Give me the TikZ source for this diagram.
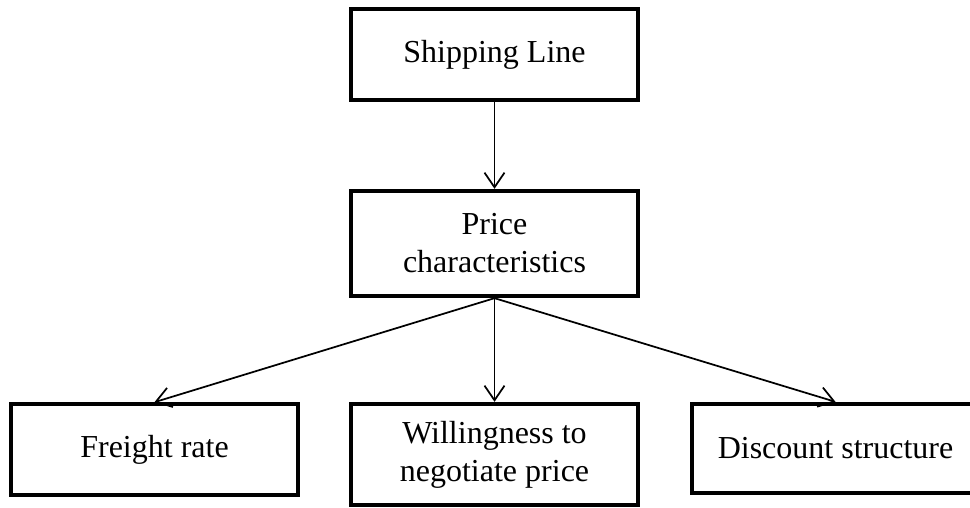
\documentclass[tikz,border=0pt]{standalone}
\usepackage{fontspec}
\setmainfont{Liberation Serif}
\usetikzlibrary{arrows.meta}
\begin{document}
\begin{tikzpicture}[x=0.75pt,y=-0.75pt,
  box/.style={draw=black, line width=3pt, fill=white, rectangle,
    minimum width=215pt, align=center, inner sep=0pt,
    font=\fontsize{24}{28.5}\selectfont},
  link/.style={line width=1.3pt, -{Straight Barb[length=11pt,width=15pt,line width=1.3pt]}}]
  \useasboundingbox (0,0) rectangle (970,507);
  % top level
  \node[box, minimum height=68pt] (ship) at (494.5,54.5) {Shipping Line};
  \node[box, minimum height=79pt] (price) at (494.5,243.5) {Price\\characteristics};
  % bottom row
  \node[box, minimum height=68pt] (freight) at (154.5,449.5) {Freight rate};
  \node[box, minimum height=76pt] (will) at (494.5,454.5) {Willingness to\\negotiate price};
  \node[box, minimum height=67pt] (disc) at (835.5,448.5) {Discount structure};
  % connectors
  \draw[link] (ship.south) -- (price.north);
  \draw[link] (price.south) -- (freight.north);
  \draw[link] (price.south) -- (will.north);
  \draw[link] (price.south) -- (disc.north);
\end{tikzpicture}
\end{document}
